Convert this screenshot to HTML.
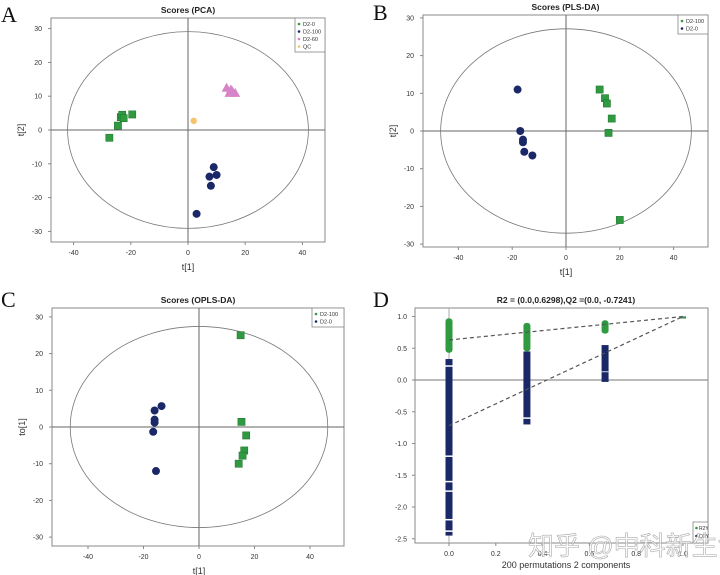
<!DOCTYPE html>
<html><head><meta charset="utf-8">
<style>
html,body{margin:0;padding:0;background:#fff;}
svg{display:block;font-family:"Liberation Sans","Noto Sans CJK SC",sans-serif;}
.tick{font-size:7px;fill:#333;}
.ttl{font-size:8.5px;font-weight:bold;fill:#222;}
.axl{font-size:9px;fill:#333;}
.let{font-family:"Liberation Serif",serif;font-size:22px;fill:#111;}
</style></head>
<body>
<svg id="fig" width="720" height="575" viewBox="0 0 720 575"></svg>
<script>
// ---- Panel A (PCA) data ----
const aD20x=[-27.5,-24.5,-23.5,-23,-22.5,-19.5];
const aD20y=[-2.3,1.3,3.8,4.5,3.5,4.6];
const aD2100x=[9,7.5,10,8,3];
const aD2100y=[-11,-13.8,-13.3,-16.5,-24.8];
const aD260x=[13.5,15.5,16.5,14.5,15];
const aD260y=[12.5,11.5,11,11,12];
const aQCx=[2];
const aQCy=[2.7];
const aXTicks=[-40,-20,0,20,40];
const aYTicks=[30,20,10,0,-10,-20,-30];
// ---- Panel B (PLS-DA) ----
const bD2100x=[12.5,14.5,15.2,17,15.8,20];
const bD2100y=[11,8.7,7.3,3.3,-0.5,-23.6];
const bD20x=[-18,-17,-16,-16,-15.5,-12.5];
const bD20y=[11,0,-2.3,-3,-5.5,-6.5];
const bXTicks=[-40,-20,0,20,40];
const bYTicks=[30,20,10,0,-10,-20,-30];
// ---- Panel C (OPLS-DA) ----
const cD2100x=[15,15.3,17,16.3,15.7,14.3];
const cD2100y=[25,1.4,-2.3,-6.4,-7.8,-10];
const cD20x=[-13.5,-16,-16,-16,-16.5,-15.5];
const cD20y=[5.7,4.5,2,1.2,-1.3,-12];
const cXTicks=[-40,-20,0,20,40];
const cYTicks=[30,20,10,0,-10,-20,-30];
// ---- Panel D (permutation) ----
const dColX=[0,0.333,0.667,1.0];
const dR2lo=[0.43,0.45,0.73,0.97];
const dR2hi=[0.97,0.9,0.94,1.0];
const dQ2lo=[-2.45,-0.7,-0.03,0.97];
const dQ2hi=[0.33,0.45,0.55,1.0];
const dR2line=[0.63,1.0];
const dQ2line=[-0.72,1.0];
const dXTicks=["0.0","0.2","0.4","0.6","0.8","1.0"];
const dYTicks=[1.0,0.5,0.0,-0.5,-1.0,-1.5,-2.0,-2.5];

const G="#2f9a40",N="#1a2868",P="#d683c8",Y="#f6c46c";
const svg=document.getElementById('fig');
const NS="http://www.w3.org/2000/svg";
function el(tag,attrs,parent){const e=document.createElementNS(NS,tag);for(const k in attrs)e.setAttribute(k,attrs[k]);(parent||svg).appendChild(e);return e;}
function txt(x,y,s,cls,anchor,parent){const t=el('text',{x:x,y:y,class:cls,'text-anchor':anchor||'middle'},parent);t.textContent=s;return t;}

function scorePanel(cfg){
  const g=el('g',{});
  
  
  const X=v=>cfg.x0+v*cfg.sx, Yf=v=>cfg.y0-v*cfg.sy;
  const b=el('rect',{x:cfg.L,y:cfg.T,width:cfg.R-cfg.L,height:cfg.B-cfg.T,fill:'none',stroke:'#888','stroke-width':1},g);
  
  const hl=el('line',{x1:cfg.L,x2:cfg.R,y1:Yf(0),y2:Yf(0),stroke:'#666','stroke-width':1},g);
  
  const vl=el('line',{x1:X(0),x2:X(0),y1:cfg.T,y2:cfg.B,stroke:'#666','stroke-width':1},g);
  
  const e=el('ellipse',{cx:X(0),cy:Yf(0),rx:cfg.erx*cfg.sx,ry:cfg.ery*cfg.sy,fill:'none',stroke:'#777','stroke-width':0.8},g);
  
  cfg.xt.forEach(v=>{el('line',{x1:X(v),x2:X(v),y1:cfg.B,y2:cfg.B+3,stroke:'#888'},g);const t=txt(X(v),cfg.B+13,String(v),'tick','middle',g);});
  cfg.yt.forEach(v=>{el('line',{x1:cfg.L-3,x2:cfg.L,y1:Yf(v),y2:Yf(v),stroke:'#888'},g);const t=txt(cfg.L-9,Yf(v)+2.5,String(v),'tick','end',g);});
  const tt=txt((cfg.L+cfg.R)/2,cfg.T-5,cfg.title,'ttl','middle',g);
  const xl=txt(X(0),cfg.B+28,cfg.xlab,'axl','middle',g);
  const yl=txt(0,0,cfg.ylab,'axl','middle',g);yl.setAttribute('transform',`translate(${cfg.L-27},${Yf(0)}) rotate(-90)`);
  const lt=txt(cfg.letX,cfg.letY,cfg.letter,'let','start',g);
  cfg.series.forEach(s=>{
    s.xs.forEach((xv,i)=>{
      const px=X(xv),py=Yf(s.ys[i]);let m;
      if(s.shape==='sq')m=el('rect',{x:px-3.6,y:py-3.6,width:7.2,height:7.2,fill:s.c,stroke:'#1d6e2a','stroke-width':0.5},g);
      else if(s.shape==='ci')m=el('circle',{cx:px,cy:py,r:4,fill:s.c},g);
      else if(s.shape==='tr')m=el('polygon',{points:`${px},${py-5} ${px-5},${py+4} ${px+5},${py+4}`,fill:s.c},g);
      else m=el('circle',{cx:px,cy:py,r:3.2,fill:s.c},g);
      
      
    });
  });
  // legend
  const lg=el('g',{},g);
  
  const lh=cfg.series.length*7.5+4;
  el('rect',{x:cfg.legX,y:cfg.T,width:cfg.R-cfg.legX,height:lh,fill:'#fff',stroke:'#888','stroke-width':0.8},lg);
  cfg.series.forEach((s,i)=>{
    const yy=cfg.T+6+i*7.5;
    el('circle',{cx:cfg.legX+4,cy:yy,r:1.3,fill:s.c},lg);
    const t=txt(cfg.legX+8,yy+2,s.label,'tick','start',lg);t.setAttribute('style','font-size:5.5px');
    
  });
}

scorePanel({name:'panel-a-pca',L:51,R:325,T:18,B:242,x0:188,sx:2.86,y0:130,sy:3.38,erx:42.1,ery:29.1,
  xt:aXTicks,yt:aYTicks,title:'Scores (PCA)',xlab:'t[1]',ylab:'t[2]',letter:'A',letX:1,letY:22,legX:295,
  series:[{key:'d2-0',label:'D2-0',c:G,shape:'sq',xs:aD20x,ys:aD20y},
          {key:'d2-100',label:'D2-100',c:N,shape:'ci',xs:aD2100x,ys:aD2100y},
          {key:'d2-60',label:'D2-60',c:P,shape:'tr',xs:aD260x,ys:aD260y},
          {key:'qc',label:'QC',c:Y,shape:'qc',xs:aQCx,ys:aQCy}]});
scorePanel({name:'panel-b-plsda',L:423,R:708,T:15,B:247,x0:566,sx:2.69,y0:131,sy:3.77,erx:46.6,ery:27.1,
  xt:bXTicks,yt:bYTicks,title:'Scores (PLS-DA)',xlab:'t[1]',ylab:'t[2]',letter:'B',letX:373,letY:20,legX:678,
  series:[{key:'d2-100',label:'D2-100',c:G,shape:'sq',xs:bD2100x,ys:bD2100y},
          {key:'d2-0',label:'D2-0',c:N,shape:'ci',xs:bD20x,ys:bD20y}]});
scorePanel({name:'panel-c-oplsda',L:52,R:344,T:308,B:546,x0:199,sx:2.775,y0:427,sy:3.67,erx:46.4,ery:27.4,
  xt:cXTicks,yt:cYTicks,title:'Scores (OPLS-DA)',xlab:'t[1]',ylab:'to[1]',letter:'C',letX:1,letY:307,legX:312,
  series:[{key:'d2-100',label:'D2-100',c:G,shape:'sq',xs:cD2100x,ys:cD2100y},
          {key:'d2-0',label:'D2-0',c:N,shape:'ci',xs:cD20x,ys:cD20y}]});

// ---- Panel D ----
(function(){
  const L=415,R=708,T=308,B=543;
  const X=v=>449+v*234, Yf=v=>380-v*63.5;
  const g=el('g',{});
  
  
  const f=el('rect',{x:L,y:T,width:R-L,height:B-T,fill:'none',stroke:'#888'},g);
  
  el('line',{x1:L,x2:R,y1:Yf(0),y2:Yf(0),stroke:'#777'},g);
  el('line',{x1:X(0),x2:X(0),y1:T,y2:B,stroke:'#aaa'},g);
  dXTicks.forEach(s=>{const v=parseFloat(s);el('line',{x1:X(v),x2:X(v),y1:B,y2:B+3,stroke:'#888'},g);
    const t=txt(X(v),B+13,s,'tick','middle',g);});
  dYTicks.forEach(v=>{el('line',{x1:L-3,x2:L,y1:Yf(v),y2:Yf(v),stroke:'#888'},g);
    const t=txt(L-8,Yf(v)+2.5,v.toFixed(1),'tick','end',g);});
  dColX.forEach((cx,i)=>{
    const w=i===3?6:7;
    const q=el('rect',{x:X(cx)-w/2,y:Yf(dQ2hi[i]),width:w,height:Yf(dQ2lo[i])-Yf(dQ2hi[i]),fill:N},g);
    
    const r=el('rect',{x:X(cx)-w/2,y:Yf(dR2hi[i]),width:w,height:Yf(dR2lo[i])-Yf(dR2hi[i]),rx:3,fill:G},g);
    
  });
  // white gaps in the first Q2 column
  [0.22,-1.2,-1.6,-1.75,-2.2,-2.38].forEach(v=>el('line',{x1:X(0)-4,x2:X(0)+4,y1:Yf(v),y2:Yf(v),stroke:'#fff','stroke-width':1.5},g));
  el('line',{x1:X(0.333)-4,x2:X(0.333)+4,y1:Yf(-0.6),y2:Yf(-0.6),stroke:'#fff','stroke-width':1.5},g);
  el('line',{x1:X(0.667)-4,x2:X(0.667)+4,y1:Yf(0.13),y2:Yf(0.13),stroke:'#cfd3e6','stroke-width':1},g);
  const l1=el('line',{x1:X(0),y1:Yf(dR2line[0]),x2:X(1),y2:Yf(dR2line[1]),stroke:'#555','stroke-width':1.2,'stroke-dasharray':'4,3'},g);
  
  const l2=el('line',{x1:X(0),y1:Yf(dQ2line[0]),x2:X(1),y2:Yf(dQ2line[1]),stroke:'#555','stroke-width':1.2,'stroke-dasharray':'4,3'},g);
  
  const tt=txt(566,T-5,'R2 = (0.0,0.6298),Q2 =(0.0, -0.7241)','ttl','middle',g);
  
  const xl=txt(566,B+25,'200 permutations 2 components','axl','middle',g);
  
  const lt=txt(373,307,'D','let','start',g);
  
  const lg=el('g',{},g);
  
  el('rect',{x:693,y:522,width:15,height:21,fill:'#fff',stroke:'#888','stroke-width':0.8},lg);
  el('circle',{cx:696.5,cy:528,r:1.3,fill:G},lg);
  el('circle',{cx:696.5,cy:536,r:1.3,fill:N},lg);
  const e1=txt(699,530,'R2Y','tick','start',lg);e1.setAttribute('style','font-size:5px');
  
  const e2=txt(699,538,'Q2Y','tick','start',lg);e2.setAttribute('style','font-size:5px');
  
  const wm=txt(528,555,'知乎 @中科新生命','tick','start',g);
  wm.setAttribute('style','font-size:26px;fill:#fff;fill-opacity:0.55;stroke:#aaa;stroke-width:0.6');
  
})();
</script>
</body></html>
